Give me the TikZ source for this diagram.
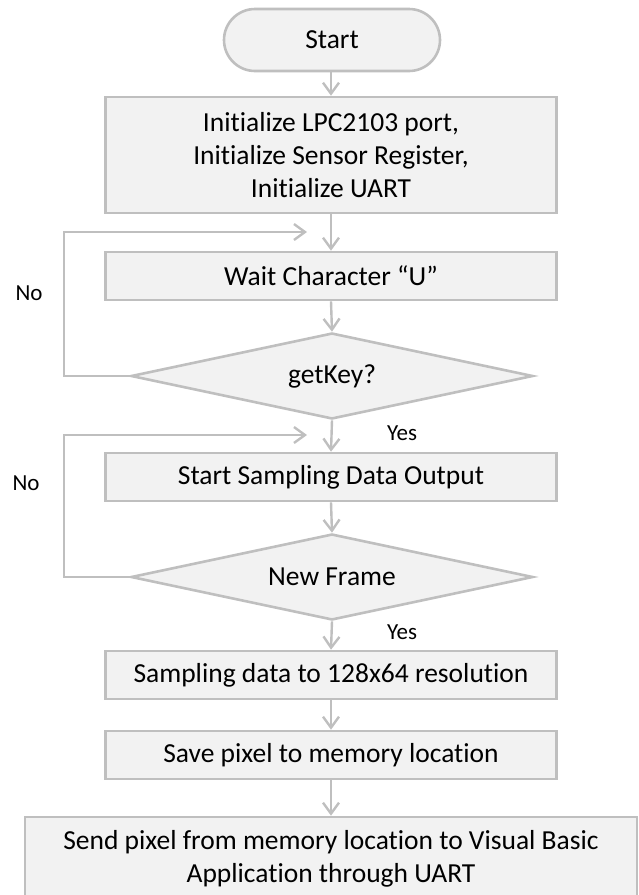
\documentclass[tikz,border=0pt]{standalone}
\usepackage{fontspec}
\setmainfont[Ligatures={NoCommon}]{Carlito}
\usetikzlibrary{arrows.meta,shapes.geometric}
\definecolor{edgegray}{HTML}{BFBFBF}
\definecolor{boxfill}{HTML}{F2F2F2}
\begin{document}
\begin{tikzpicture}[x=1pt,y=-1pt,
  every node/.style={font=\fontsize{27.5}{33}\selectfont, text=black},
  procbox/.style={draw=edgegray, fill=boxfill, line width=2.6pt, rectangle, inner sep=0pt, align=center},
  termbox/.style={draw=edgegray, fill=boxfill, line width=2.6pt, rectangle, rounded corners=31pt, inner sep=0pt, minimum width=216pt, minimum height=62pt},
  decbox/.style={draw=edgegray, fill=boxfill, line width=2.6pt, diamond, inner sep=0pt, aspect=4.6, minimum width=402pt, minimum height=86pt},
  flow/.style={draw=edgegray, line width=2.4pt, -{Straight Barb[length=11pt,width=16pt,line width=2.4pt]}},
  lbl/.style={font=\fontsize{23}{27}\selectfont}
]
\useasboundingbox (0,0) rectangle (638,895);
\clip (0,0) rectangle (638,895);

\node[termbox] (start) at (332,40) {Start};
\node[procbox, minimum width=451pt, minimum height=116pt] (init) at (331,155)
  {Initialize LPC2103 port,\\Initialize Sensor Register,\\Initialize UART};
\node[procbox, minimum width=451pt, minimum height=48pt] (wait) at (331,276) {Wait Character “U”};
\node[decbox] (getkey) at (332,376) {getKey?};
\node[procbox, minimum width=451pt, minimum height=48pt] (sdo) at (331,477) {Start Sampling Data Output};
\node[decbox] (newframe) at (332,577) {New Frame};
\node[procbox, minimum width=451pt, minimum height=48pt] (res) at (331,675) {Sampling data to 128x64 resolution};
\node[procbox, minimum width=451pt, minimum height=48pt] (save) at (331,755) {Save pixel to memory location};
\node[procbox, minimum width=612pt, minimum height=84pt] (send) at (331,859)
  {Send pixel from memory location to Visual Basic\\Application through UART};

\coordinate (l1a) at (64,376);
\coordinate (l1b) at (64,232);
\coordinate (l1c) at (307,232);
\coordinate (l2a) at (64,577);
\coordinate (l2b) at (64,435);
\coordinate (l2c) at (307,435);

\draw[flow] (start.south -| 331,0) -- (init.north -| 331,0);
\draw[flow] (init.south -| 331,0) -- (wait.north -| 331,0);
\draw[flow] (wait.south -| 331,0) -- (getkey.north);
\draw[flow] (getkey.south) -- (sdo.north -| 331,0);
\draw[flow] (sdo.south -| 331,0) -- (newframe.north);
\draw[flow] (newframe.south) -- (res.north -| 331,0);
\draw[flow] (res.south -| 331,0) -- (save.north -| 331,0);
\draw[flow] (save.south -| 331,0) -- (send.north -| 331,0);

\draw[flow] (getkey.west) -- (l1a) -- (l1b) -- (l1c);
\draw[flow] (newframe.west) -- (l2a) -- (l2b) -- (l2c);

\node[lbl] (no1) at (29,293) {No};
\node[lbl] (no2) at (26,483) {No};
\node[lbl] (yes1) at (402,433) {Yes};
\node[lbl] (yes2) at (402,632) {Yes};
\end{tikzpicture}
\end{document}
